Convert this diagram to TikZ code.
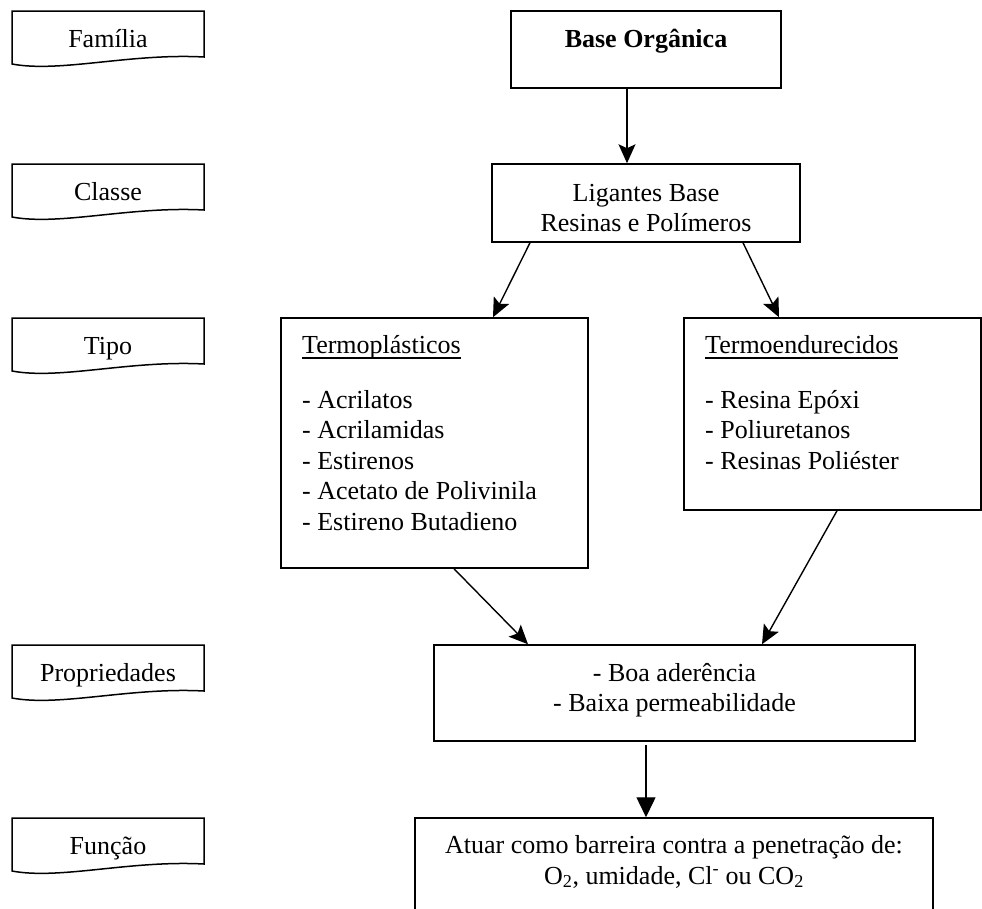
\documentclass[tikz,border=0pt]{standalone}
\usepackage{fontspec}
\setmainfont{Liberation Serif}
\usetikzlibrary{arrows.meta}
\newcommand\mkdoc[3]{%
  \draw[docline] (12,#2) -- (204,#2) -- (204,#2+46) .. controls (130,#2+42) and (60,#2+62) .. (12,#2+53) -- cycle;
  \node[txt] (#1) at (108,#2+36) {#3};
}
\newcommand\wul[1]{\setbox0\hbox{#1}\rlap{\rule[-5.5pt]{\wd0}{1.3pt}}\box0}
\begin{document}
\begin{tikzpicture}[x=1pt,y=-1pt,
  docline/.style={line width=1.5pt},
  box/.style={draw,line width=1.5pt,rectangle,inner sep=0pt},
  txt/.style={anchor=base,inner sep=0pt,font=\fontsize{26}{30.5}\selectfont},
  ltxt/.style={txt,anchor=base west},
  arr/.style={line width=1.4pt,-{Stealth[length=19pt,width=17pt,inset=4pt]}},
  arrt/.style={line width=1.4pt,-{Triangle[length=20pt,width=19pt]}}]
\useasboundingbox (0,0) rectangle (982,908);
\clip (0,0) rectangle (982,908);
% left labels
\mkdoc{lfam}{11}{Família}
\mkdoc{lcls}{164}{Classe}
\mkdoc{ltip}{318}{Tipo}
\mkdoc{lprop}{645}{Propriedades}
\mkdoc{lfun}{818}{Função}
% boxes
\node[box,minimum width=270,minimum height=77] (base) at (646,49.5) {};
\node[box,minimum width=308,minimum height=78] (lig) at (646,203) {};
\node[box,minimum width=307,minimum height=250] (tp) at (434.5,443) {};
\node[box,minimum width=297,minimum height=192] (te) at (832.5,414) {};
\node[box,minimum width=481,minimum height=96] (prop) at (674.5,693) {};
\node[box,minimum width=518,minimum height=122] (func) at (674,879) {};
% texts
\node[txt] (tbase) at (646,47) {\bfseries Base Orgânica};
\node[txt] (tlig1) at (646,201) {Ligantes Base};
\node[txt] (tlig2) at (646,231) {Resinas e Polímeros};
\node[ltxt] (ttp0) at (302,353) {\wul{Termoplásticos}};
\node[ltxt] (ttp1) at (302,408) {- Acrilatos};
\node[ltxt] (ttp2) at (302,438.5) {- Acrilamidas};
\node[ltxt] (ttp3) at (302,469) {- Estirenos};
\node[ltxt] (ttp4) at (302,499.5) {- Acetato de Polivinila};
\node[ltxt] (ttp5) at (302,530) {- Estireno Butadieno};
\node[ltxt] (tte0) at (705,353) {\wul{Termoendurecidos}};
\node[ltxt] (tte1) at (705,408) {- Resina Epóxi};
\node[ltxt] (tte2) at (705,438.5) {- Poliuretanos};
\node[ltxt] (tte3) at (705,469) {- Resinas Poliéster};
\node[txt] (tpr1) at (674.5,681) {- Boa aderência};
\node[txt] (tpr2) at (674.5,711) {- Baixa permeabilidade};
\node[txt] (tfu1) at (674,853) {Atuar como barreira contra a penetração de:};
\node[txt] (tfu2) at (674,884) {O\textsubscript{2}, umidade, Cl\textsuperscript{-} ou CO\textsubscript{2}};
% connectors
\draw[arr] ([xshift=-19pt]base.south) -- ([xshift=-19pt]lig.north);
\draw[arr] ([xshift=-116pt]lig.south) -- ([xshift=58.5pt]tp.north);
\draw[arr] ([xshift=97pt]lig.south) -- ([xshift=-53.5pt]te.north);
\draw[arr] ([xshift=19.5pt]tp.south) -- ([xshift=-146.5pt]prop.north);
\draw[arr] ([xshift=4.5pt]te.south) -- ([xshift=87.5pt]prop.north);
\draw[arrt] ([xshift=-28.5pt,yshift=-3pt]prop.south) -- ([xshift=-28pt]func.north);
\end{tikzpicture}
\end{document}
